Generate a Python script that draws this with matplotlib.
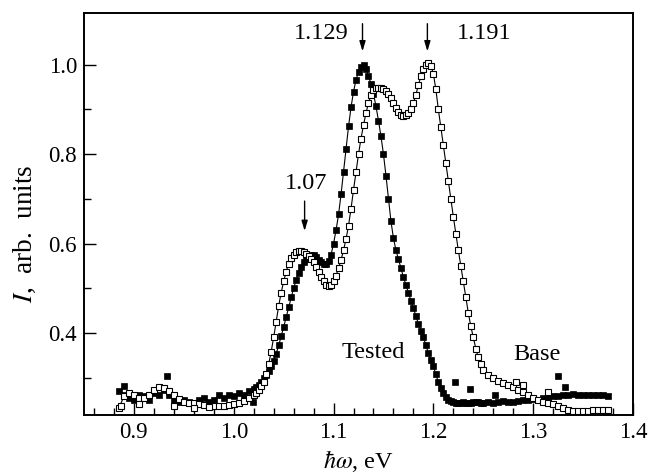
import numpy as np
import matplotlib
matplotlib.use("Agg")
import matplotlib.pyplot as plt
from matplotlib.ticker import MultipleLocator, FixedLocator

plt.rcParams['font.family'] = ['Liberation Serif', 'DejaVu Serif']
plt.rcParams['mathtext.fontset'] = 'stix'

# photon energy grid, eV (finer step across the emission band)
energy = np.concatenate([
    np.arange(0.885, 1.0151, 0.005),
    np.arange(1.020, 1.2501, 0.0025),
    np.arange(1.255, 1.3751, 0.005),
])

# "Tested" sample (filled squares)
tested = [
    # 0.885 - 1.015
    0.270, 0.262, 0.255, 0.250, 0.262, 0.258, 0.250, 0.265, 0.260, 0.272,
    0.260, 0.250, 0.245, 0.250, 0.245, 0.242, 0.250, 0.255, 0.245, 0.250,
    0.260, 0.255, 0.262, 0.258, 0.265, 0.262, 0.270,
    # 1.020 - 1.250
    0.275, 0.279, 0.284, 0.291, 0.298, 0.306, 0.315, 0.325, 0.338, 0.353,
    0.372, 0.392, 0.413, 0.435, 0.457, 0.480, 0.500, 0.518, 0.535, 0.548,
    0.558, 0.565, 0.571, 0.575, 0.574, 0.569, 0.563, 0.558, 0.555, 0.554,
    0.560, 0.575, 0.600, 0.630, 0.665, 0.710, 0.760, 0.812, 0.862, 0.905,
    0.940, 0.966, 0.985, 0.996, 1.000, 0.990, 0.975, 0.957, 0.935, 0.907,
    0.875, 0.840, 0.800, 0.752, 0.700, 0.650, 0.612, 0.585, 0.565, 0.545,
    0.525, 0.507, 0.490, 0.472, 0.455, 0.438, 0.420, 0.405, 0.390, 0.372,
    0.355, 0.340, 0.325, 0.307, 0.290, 0.277, 0.265, 0.257, 0.250, 0.247,
    0.245, 0.243, 0.242, 0.243, 0.245, 0.244, 0.243, 0.244, 0.245, 0.246,
    0.245, 0.244, 0.242,
    # 1.255 - 1.375
    0.245, 0.243, 0.245, 0.248, 0.245, 0.245, 0.248, 0.250, 0.250, 0.252,
    0.250, 0.255, 0.255, 0.258, 0.258, 0.260, 0.262, 0.263, 0.262, 0.262,
    0.260, 0.262, 0.260, 0.262, 0.258,
]

# "Base" sample (open squares)
base = [
    # 0.885 - 1.015
    0.232, 0.258, 0.265, 0.262, 0.255, 0.255, 0.262, 0.272, 0.278, 0.276,
    0.270, 0.260, 0.252, 0.246, 0.243, 0.242, 0.240, 0.238, 0.237, 0.236,
    0.236, 0.236, 0.238, 0.240, 0.243, 0.248, 0.255,
    # 1.020 - 1.250
    0.262, 0.266, 0.272, 0.280, 0.290, 0.307, 0.330, 0.358, 0.390, 0.425,
    0.460, 0.490, 0.515, 0.537, 0.555, 0.567, 0.575, 0.580, 0.583, 0.583,
    0.580, 0.577, 0.572, 0.566, 0.558, 0.548, 0.537, 0.525, 0.515, 0.508,
    0.505, 0.507, 0.515, 0.528, 0.545, 0.563, 0.585, 0.610, 0.640, 0.678,
    0.720, 0.760, 0.800, 0.835, 0.865, 0.892, 0.915, 0.932, 0.943, 0.947,
    0.948, 0.947, 0.945, 0.941, 0.935, 0.926, 0.915, 0.904, 0.895, 0.888,
    0.885, 0.887, 0.893, 0.902, 0.915, 0.933, 0.955, 0.975, 0.990, 1.000,
    1.005, 0.998, 0.980, 0.945, 0.900, 0.860, 0.820, 0.780, 0.740, 0.700,
    0.660, 0.622, 0.585, 0.550, 0.515, 0.480, 0.445, 0.415, 0.390, 0.365,
    0.345, 0.330, 0.318,
    # 1.255 - 1.375
    0.305, 0.298, 0.293, 0.288, 0.284, 0.279, 0.273, 0.267, 0.260, 0.254,
    0.250, 0.246, 0.243, 0.240, 0.236, 0.232, 0.228, 0.225, 0.224, 0.225,
    0.226, 0.227, 0.228, 0.228, 0.228,
]

# scattered noisy points off the curves
tested_noise_x = [0.890, 0.933, 1.019, 1.222, 1.237, 1.262, 1.325, 1.332]
tested_noise_y = [0.280, 0.303, 0.246, 0.290, 0.274, 0.262, 0.303, 0.279]
base_noise_x = [0.887, 0.905, 0.940, 0.960, 0.975, 1.283, 1.290, 1.315]
base_noise_y = [0.236, 0.240, 0.236, 0.232, 0.234, 0.290, 0.283, 0.268]

fig = plt.figure(figsize=(6.58, 4.76), dpi=100)
ax = fig.add_axes([0.1277, 0.128, 0.8343, 0.8447])

ax.plot(energy, tested, color='black', lw=0.8, marker='s', ms=3.8,
        mfc='black', mec='black', mew=0.5)
ax.plot(tested_noise_x, tested_noise_y, ls='none', marker='s', ms=3.8,
        mfc='black', mec='black', mew=0.5)
ax.plot(energy, base, color='black', lw=0.8, marker='s', ms=4.3,
        mfc='white', mec='black', mew=0.8)
ax.plot(base_noise_x, base_noise_y, ls='none', marker='s', ms=4.3,
        mfc='white', mec='black', mew=0.8)

ax.set_xlim(0.85, 1.4)
ax.set_ylim(0.216, 1.116)

ax.xaxis.set_major_locator(FixedLocator([0.9, 1.0, 1.1, 1.2, 1.3, 1.4]))
ax.xaxis.set_minor_locator(MultipleLocator(0.02))
ax.yaxis.set_major_locator(FixedLocator([0.4, 0.6, 0.8, 1.0]))
ax.yaxis.set_minor_locator(FixedLocator([0.3, 0.5, 0.7, 0.9]))
ax.set_xticklabels(['0.9', '1.0', '1.1', '1.2', '1.3', '1.4'])
ax.set_yticklabels(['0.4', '0.6', '0.8', '1.0'])

ax.tick_params(which='both', direction='in', top=False, right=False,
               labelsize=16.5, width=1.0)
ax.tick_params(which='major', length=8.5, pad=5)
ax.tick_params(which='minor', length=5)
for s in ax.spines.values():
    s.set_linewidth(1.4)

ax.set_xlabel(r'$\hbar\omega$, eV', fontsize=17.5, va='center')
ax.xaxis.set_label_coords(0.5, -0.115)
ax.set_ylabel(r'$I$,  arb.  units', fontsize=19.5, va='center')
ax.yaxis.set_label_coords(-0.108, 0.45)

arrow = dict(arrowstyle='-|>,head_length=0.6,head_width=0.18', color='black',
             lw=1.0, shrinkA=0, shrinkB=0)
ax.annotate('', xy=(1.129, 1.03), xytext=(1.129, 1.092), arrowprops=arrow)
ax.annotate('', xy=(1.194, 1.03), xytext=(1.194, 1.092), arrowprops=arrow)
ax.annotate('', xy=(1.071, 0.628), xytext=(1.071, 0.695), arrowprops=arrow)
ax.text(1.115, 1.07, '1.129', fontsize=17.5, ha='right', va='center')
ax.text(1.224, 1.07, '1.191', fontsize=17.5, ha='left', va='center')
ax.text(1.072, 0.735, '1.07', fontsize=17.5, ha='center', va='center')
ax.text(1.140, 0.356, 'Tested', fontsize=17.5, ha='center', va='center')
ax.text(1.304, 0.352, 'Base', fontsize=17.5, ha='center', va='center')

fig.savefig('out.png', dpi=100)
